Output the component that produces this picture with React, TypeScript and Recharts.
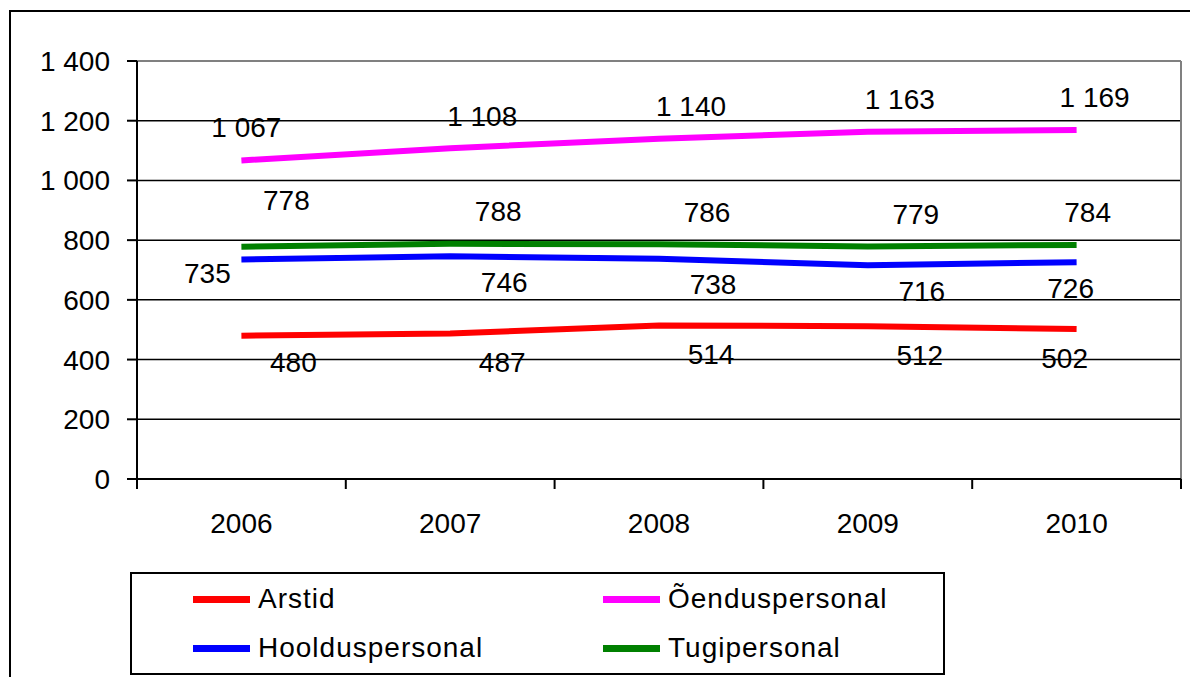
import React from 'react';
import {
  ComposedChart,
  Line,
  XAxis,
  YAxis,
  CartesianGrid,
  LabelList,
} from 'recharts';

// Data
const years = ['2006', '2007', '2008', '2009', '2010'];
const arstid = [480, 487, 514, 512, 502];
const oenduspersonal = [1067, 1108, 1140, 1163, 1169];
const hoolduspersonal = [735, 746, 738, 716, 726];
const tugipersonal = [778, 788, 786, 779, 784];
const yTicks = [0, 200, 400, 600, 800, 1000, 1200, 1400];

const FONT = '"Liberation Sans", Arial, sans-serif';
const FONT_SIZE = 28;

const CHART_W = 1190;
const CHART_H = 677;
const Y_AXIS_W = 137;
const MARGIN = { top: 61, right: 9, left: 0, bottom: 138 };
const X_TICK_GAP = 34; // axis line -> top of year label
const BAND = (CHART_W - Y_AXIS_W - MARGIN.right - MARGIN.left) / years.length;

const series = [
  { key: 'arstid', name: 'Arstid', color: '#FF0000', values: arstid, label: { dx: 52, dy: 29, firstDx: 52, firstDy: 27, lastDx: -12 } },
  { key: 'oendus', name: 'Õenduspersonal', color: '#FF00FF', values: oenduspersonal, label: { dx: 32, dy: -32, firstDx: 5, firstDy: -33, lastDx: 18 } },
  { key: 'hooldus', name: 'Hoolduspersonal', color: '#0000FF', values: hoolduspersonal, label: { dx: 54, dy: 26, firstDx: -34, firstDy: 14, lastDx: -6 } },
  { key: 'tugi', name: 'Tugipersonal', color: '#008000', values: tugipersonal, label: { dx: 48, dy: -32, firstDx: 45, firstDy: -46, lastDx: 11 } },
];

const chartData = years.map((year, i) => {
  const row: Record<string, string | number> = { year };
  series.forEach(s => {
    row[s.key] = s.values[i];
  });
  return row;
});

// "1 400" style thousands separator
const fmt = (v: number) => {
  if (v >= 1000) return `${Math.floor(v / 1000)} ${String(v % 1000).padStart(3, '0')}`;
  return String(v);
};

const makeLabel = (cfg: { dx: number; dy: number; firstDx: number; firstDy: number; lastDx: number }) =>
  (props: any) => {
    const { x, y, value, index } = props;
    let dx = cfg.dx;
    let dy = cfg.dy;
    if (index === 0) {
      dx = cfg.firstDx;
      dy = cfg.firstDy;
    }
    if (index === years.length - 1) dx = cfg.lastDx;
    return (
      <text
        x={x + dx}
        y={y + dy}
        textAnchor="middle"
        dominantBaseline="central"
        fontFamily={FONT}
        fontSize={FONT_SIZE}
        fill="#000"
      >
        {fmt(value)}
      </text>
    );
  };

// Year label plus Excel-style tick marks on the category boundaries
const YearTick = (props: any) => {
  const { x, y, payload, index } = props;
  const axisY = y - X_TICK_GAP;
  const left = x - BAND / 2;
  return (
    <g>
      <line x1={left} x2={left} y1={axisY} y2={axisY + 10} stroke="#000" strokeWidth={2} />
      {index === years.length - 1 && (
        <line x1={left + BAND} x2={left + BAND} y1={axisY} y2={axisY + 10} stroke="#000" strokeWidth={2} />
      )}
      <text x={x} y={y} dy="0.71em" textAnchor="middle" fontFamily={FONT} fontSize={FONT_SIZE} fill="#000">
        {payload.value}
      </text>
    </g>
  );
};

const LegendBox = () => (
  <div
    style={{
      position: 'absolute',
      left: 130,
      top: 572,
      width: 811,
      height: 99,
      border: '2px solid #000',
      background: '#fff',
      fontFamily: FONT,
      fontSize: FONT_SIZE,
      letterSpacing: 1,
    }}
  >
    {series.map((s, i) => (
      <div
        key={s.key}
        style={{
          position: 'absolute',
          left: 61 + (i % 2) * 410,
          top: 8 + Math.floor(i / 2) * 49,
          height: 34,
          display: 'flex',
          alignItems: 'center',
          whiteSpace: 'nowrap',
        }}
      >
        <span style={{ display: 'inline-block', width: 57, height: 7, background: s.color, marginRight: 8 }} />
        <span>{s.name}</span>
      </div>
    ))}
  </div>
);

const App: React.FC = () => {
  return (
    <div style={{ position: 'fixed', left: 0, top: 0, width: CHART_W, height: CHART_H, overflow: 'hidden', background: '#fff' }}>
      {/* outer chart frame, cropped on the right and bottom */}
      <div style={{ position: 'absolute', left: 9, top: 10, width: 1300, height: 800, border: '2px solid #000' }} />
      <div style={{ position: 'absolute', left: 0, top: 0 }}>
        <ComposedChart width={CHART_W} height={CHART_H} data={chartData} margin={MARGIN}>
          <CartesianGrid horizontal vertical={false} stroke="#000" strokeWidth={1.5} />
          {/* gray plot-area border: top and right edges */}
          <CartesianGrid
            stroke="#808080"
            strokeWidth={2}
            horizontalCoordinatesGenerator={({ offset }: any) => [offset.top]}
            verticalCoordinatesGenerator={({ offset }: any) => [offset.left + offset.width]}
          />
          <XAxis
            dataKey="year"
            scale="band"
            height={60}
            interval={0}
            axisLine={{ stroke: '#000', strokeWidth: 2 }}
            tickLine={false}
            tickSize={0}
            tickMargin={X_TICK_GAP}
            tick={<YearTick />}
          />
          <YAxis
            domain={[0, 1400]}
            ticks={yTicks}
            width={Y_AXIS_W}
            tickSize={10}
            tickMargin={17}
            tickFormatter={fmt}
            axisLine={{ stroke: '#000', strokeWidth: 2 }}
            tickLine={{ stroke: '#000', strokeWidth: 2 }}
            tick={{ fill: '#000', fontFamily: FONT, fontSize: FONT_SIZE }}
          />
          {series.map(s => (
            <Line
              key={s.key}
              dataKey={s.key}
              name={s.name}
              type="linear"
              stroke={s.color}
              strokeWidth={6}
              dot={false}
              activeDot={false}
              isAnimationActive={false}
            >
              <LabelList dataKey={s.key} content={makeLabel(s.label)} />
            </Line>
          ))}
        </ComposedChart>
      </div>
      <LegendBox />
    </div>
  );
};

export default App;
